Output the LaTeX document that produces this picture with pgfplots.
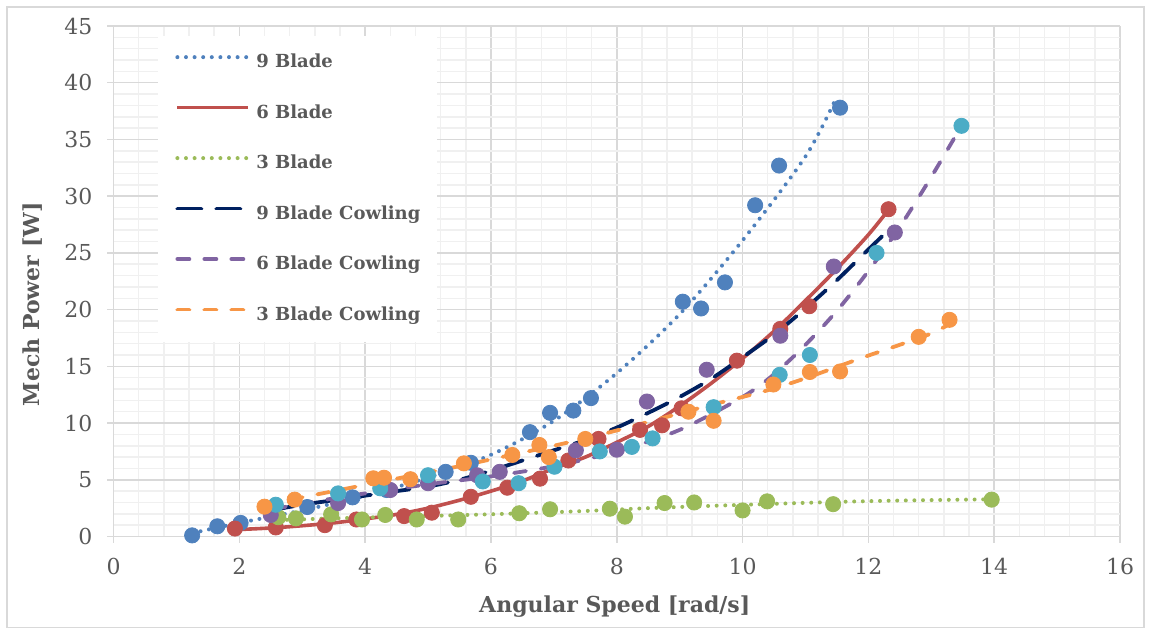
\documentclass[border=0pt]{standalone}
\usepackage{pgfplots}
\pgfplotsset{compat=1.18}
\usepackage{fontspec}
\setmainfont{DejaVu Serif}

\definecolor{cBlue}{HTML}{4F81BD}
\definecolor{cRed}{HTML}{C0504D}
\definecolor{cGreen}{HTML}{9BBB59}
\definecolor{cPurple}{HTML}{8064A2}
\definecolor{cTeal}{HTML}{4BACC6}
\definecolor{cOrange}{HTML}{F79646}
\definecolor{cNavy}{HTML}{002060}
\definecolor{cText}{HTML}{595959}
\definecolor{cGridMaj}{HTML}{D9D9D9}
\definecolor{cGridMin}{HTML}{F0F0F0}

\pgfplotsset{
  pts/.style={only marks, mark=*, mark size=3.8pt, color=#1, mark options={draw=#1, fill=#1}, forget plot},
  dotline/.style={color=#1, no marks, line width=2pt, line cap=round, dash pattern=on 0pt off 4.3pt},
  solidline/.style={color=#1, no marks, line width=1.8pt},
  longdash/.style={color=#1, no marks, line width=1.9pt, line cap=round, dash pattern=on 12pt off 7.5pt},
  shortdash/.style={color=#1, no marks, line width=1.9pt, line cap=round, dash pattern=on 6pt off 7.5pt},
}

\begin{document}
\begin{tikzpicture}
\path[use as bounding box] (0,0) rectangle (575.5pt,314.5pt);
\draw[cGridMaj, line width=0.6pt] (3.5pt,0.8pt) rectangle (572pt,311pt);
\begin{axis}[
  at={(56.75pt,46.25pt)}, anchor=south west,
  scale only axis, width=503.25pt, height=255.25pt,
  xmin=0, xmax=16, ymin=0, ymax=45,
  xtick={0,2,...,16}, ytick={0,5,...,45},
  minor x tick num=4, minor y tick num=4,
  grid=both,
  major grid style={cGridMaj, line width=0.75pt},
  minor grid style={cGridMin, line width=0.75pt},
  axis x line*=bottom, axis y line*=left,
  axis line style={cGridMaj, line width=0.75pt, -},
  tick align=outside, major tick length=3pt, minor tick length=0pt,
  tick style={cGridMaj, line width=0.75pt},
  ticklabel style={font=\fontsize{11}{13}\selectfont, text=cText},
  xticklabel style={yshift=-4.5pt},
  yticklabel style={xshift=-4pt},
  /pgf/number format/assume math mode=true,
  xlabel={Angular Speed [rad/s]}, ylabel={Mech Power [W]},
  label style={font=\bfseries\fontsize{11}{13}\selectfont, text=cText},
  xlabel style={at={(axis description cs:0.498,-0.138)}, anchor=center},
  ylabel style={at={(axis description cs:-0.080,0.455)}, anchor=center},
  clip=false,
  legend cell align=left,
  legend style={at={(rel axis cs:0.0442,0.982)}, anchor=north west, draw=none, fill=white,
    inner xsep=8.5pt, inner ysep=9.3pt, row sep=16.9pt, column sep=3pt,
    font=\bfseries\fontsize{9}{10}\selectfont, text=cText, nodes={inner sep=0pt}},
  legend image code/.code={\draw[#1] (0pt,2.7pt) -- (35.5pt,2.7pt);},
]

% measured points
\addplot[pts=cBlue] coordinates {
 (1.25,0.1) (1.65,0.9) (2.02,1.2) (3.08,2.6) (3.8,3.45) (4.34,4.1) (5.28,5.7) (5.68,6.5)
 (6.62,9.2) (6.94,10.9) (7.31,11.1) (7.59,12.2) (9.05,20.7) (9.34,20.1) (9.72,22.4)
 (10.2,29.2) (10.58,32.7) (11.55,37.8)};
\addplot[pts=cRed] coordinates {
 (1.93,0.7) (2.58,0.8) (3.36,1.0) (3.86,1.5) (4.62,1.8) (5.06,2.1) (5.68,3.5) (6.26,4.3)
 (6.78,5.1) (7.23,6.7) (7.71,8.6) (8.37,9.4) (8.72,9.8) (9.03,11.3) (9.91,15.5)
 (10.6,18.3) (11.06,20.3) (12.32,28.85)};
\addplot[pts=cGreen] coordinates {
 (2.62,1.7) (2.9,1.6) (3.46,1.95) (3.95,1.5) (4.32,1.9) (4.82,1.5) (5.48,1.5) (6.45,2.05)
 (6.94,2.4) (7.89,2.45) (8.13,1.75) (8.76,2.95) (9.23,3.0) (10.0,2.3) (10.39,3.1)
 (11.44,2.85) (13.96,3.25)};
\addplot[pts=cPurple] coordinates {
 (2.5,1.9) (3.57,2.95) (4.4,4.1) (5.0,4.7) (5.78,5.4) (6.14,5.7) (7.35,7.6) (8.0,7.65)
 (8.48,11.9) (9.43,14.7) (10.6,17.7) (11.45,23.8) (12.42,26.8)};
\addplot[pts=cTeal] coordinates {
 (2.58,2.8) (3.57,3.8) (4.24,4.25) (5.0,5.4) (5.87,4.85) (6.44,4.7) (7.01,6.15) (7.73,7.5)
 (8.24,7.9) (8.57,8.65) (9.54,11.4) (10.59,14.25) (11.07,16.0) (12.13,25.0) (13.48,36.2)};
\addplot[pts=cOrange] coordinates {
 (2.4,2.63) (2.88,3.25) (4.13,5.13) (4.3,5.18) (4.72,5.05) (5.57,6.45) (6.34,7.19) (6.77,8.07)
 (6.92,7.0) (7.5,8.6) (9.14,11.0) (9.54,10.2) (10.49,13.4) (11.07,14.5) (11.55,14.55)
 (12.8,17.6) (13.29,19.1)};

% fitted trend curves
\addplot[dotline=cBlue, smooth] coordinates {
 (1.25,0.3) (2,1.2) (3,2.3) (4,3.6) (5,5.2) (6,7.2) (7,10.2) (8,14.4) (9,19.6)
 (10,26.1) (11,33.5) (11.5,38.8)};
\addlegendentry{9 Blade}
\addplot[solidline=cRed, smooth] coordinates {
 (1.93,0.6) (2.5,0.75) (3,0.95) (3.5,1.2) (4,1.55) (4.5,1.95) (5,2.5) (5.5,3.2) (6,4.0)
 (6.5,4.9) (7,6.0) (7.5,7.0) (8,8.3) (8.5,9.7) (9,11.5) (9.5,13.5) (10,15.7) (10.5,18.1)
 (11,20.8) (11.5,23.6) (12,26.6) (12.32,28.8)};
\addlegendentry{6 Blade}
\addplot[dotline=cGreen, smooth] coordinates {
 (2.62,1.45) (3.5,1.6) (4.5,1.75) (5.5,1.88) (6.5,2.05) (7.5,2.25) (8.5,2.5) (9.5,2.7)
 (10.5,2.88) (11.5,3.05) (12.5,3.17) (13.96,3.28)};
\addlegendentry{3 Blade}
\addplot[longdash=cNavy, smooth] coordinates {
 (2.49,2.3) (3,2.8) (3.5,3.2) (4,3.6) (4.5,4.0) (5,4.4) (5.5,5.0) (6,5.8) (6.5,6.7)
 (7,7.6) (7.5,8.5) (8,9.6) (8.5,10.9) (9,12.3) (9.5,13.9) (10,15.8) (10.5,17.8)
 (11,20.1) (11.5,22.6) (12,25.3) (12.32,27.0)};
\addlegendentry{9 Blade Cowling}
\addplot[shortdash=cPurple, smooth] coordinates {
 (2.55,2.4) (3,2.9) (4,3.8) (5,4.6) (6,5.3) (7,6.2) (8,7.5) (9,9.4) (10,12.3)
 (10.5,14.3) (11,16.9) (11.5,19.9) (12,23.4) (12.5,27.3) (13,31.7) (13.48,36.2)};
\addlegendentry{6 Blade Cowling}
\addplot[shortdash=cOrange, smooth] coordinates {
 (2.4,2.75) (3,3.45) (3.5,4.0) (4,4.55) (4.5,5.1) (5,5.65) (5.5,6.2) (6,6.8) (6.5,7.4)
 (7,8.0) (7.5,8.65) (8,9.35) (8.5,10.1) (9,10.85) (9.5,11.6) (10,12.3) (10.5,13.05)
 (11,13.95) (11.5,14.95) (12,15.95) (12.5,16.9) (13,17.9) (13.35,18.9)};
\addlegendentry{3 Blade Cowling}
\end{axis}
\end{tikzpicture}
\end{document}
